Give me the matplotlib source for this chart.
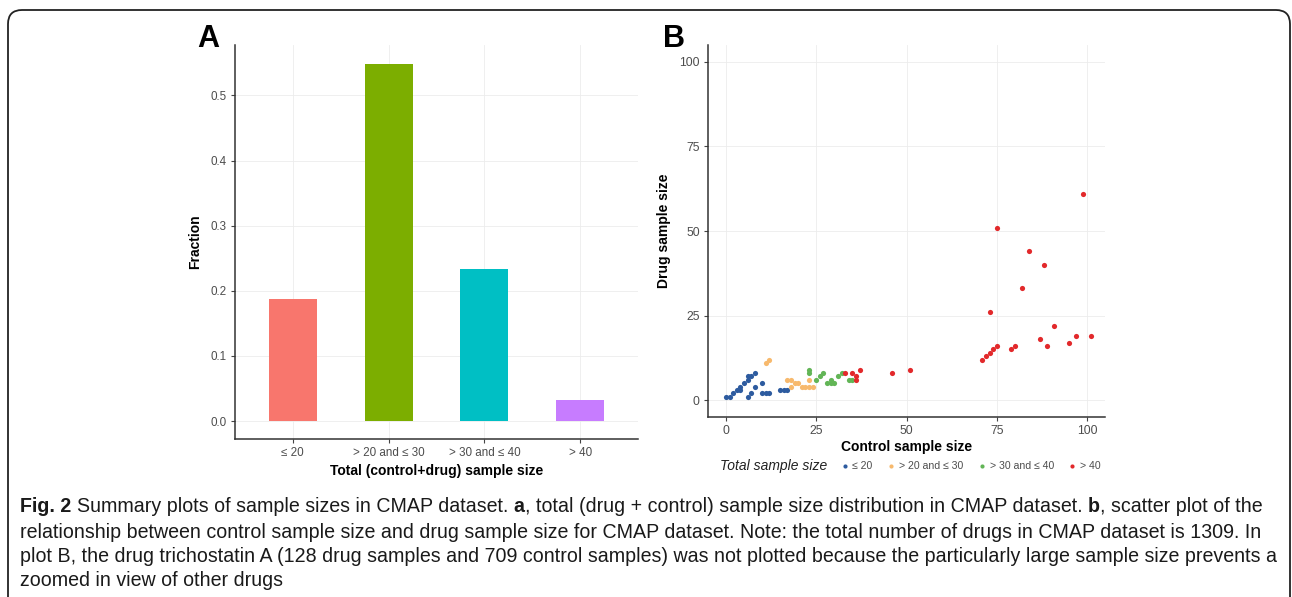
import numpy as np
import matplotlib
matplotlib.use("Agg")
import matplotlib.pyplot as plt
from matplotlib.patches import FancyBboxPatch

W, H = 1292, 597

# panel A data
grupos = ["≤ 20", "> 20 and ≤ 30", "> 30 and ≤ 40", "> 40"]
fraccion = [0.188, 0.548, 0.234, 0.032]
col_barras = ["#F8766D", "#7CAE00", "#00BFC4", "#C77CFF"]

# panel B data (control, drug) per group
ctrl_a = [0, 1, 2, 3, 4, 4, 5, 6, 6, 7, 8, 8, 6, 7, 10, 10, 11, 12, 15, 16, 17]
drug_a = [1, 1, 2, 3, 3, 4, 5, 6, 7, 7, 8, 4, 1, 2, 5, 2, 2, 2, 3, 3, 3]
ctrl_b = [11, 12, 17, 18, 18, 19, 20, 21, 22, 23, 24, 23]
drug_b = [11, 12, 6, 6, 4, 5, 5, 4, 4, 4, 4, 6]
ctrl_c = [23, 23, 25, 26, 27, 28, 29, 29, 30, 31, 32, 34, 35]
drug_c = [9, 8, 6, 7, 8, 5, 5, 6, 5, 7, 8, 6, 6]
ctrl_d = [33, 35, 36, 36, 37, 46, 51, 71, 72, 73, 74, 75, 73, 75, 79, 80,
          82, 84, 87, 88, 89, 91, 95, 97, 99, 101]
drug_d = [8, 8, 7, 6, 9, 8, 9, 12, 13, 14, 15, 16, 26, 51, 15, 16,
          33, 44, 18, 40, 16, 22, 17, 19, 61, 19]
col_puntos = ["#2d5b9f", "#f7b96d", "#62b556", "#e2292b"]

plt.rcParams["font.family"] = ["Liberation Sans", "DejaVu Sans"]

fig = plt.figure(figsize=(W / 100, H / 100), dpi=100)


def estilo(ax, ls=8.5):
    for s in ["top", "right"]:
        ax.spines[s].set_visible(False)
    for s in ["left", "bottom"]:
        ax.spines[s].set_color("#333333")
        ax.spines[s].set_linewidth(1.1)
    ax.tick_params(length=3, width=0.8, color="#444444", labelcolor="#4d4d4d",
                   labelsize=ls, pad=3)
    ax.grid(True, color="#ececec", linewidth=0.6)
    ax.set_axisbelow(True)


# A
axA = fig.add_axes([235 / W, 1 - 439 / H, 403 / W, 394 / H])
pos = np.arange(1, len(grupos) + 1)
axA.bar(pos, fraccion, width=0.5, color=col_barras)
axA.set_xlim(0.4, 4.6)
axA.set_ylim(-0.0275, 0.5775)
axA.set_xticks(pos)
axA.set_xticklabels(grupos)
axA.set_yticks([0, 0.1, 0.2, 0.3, 0.4, 0.5])
axA.set_yticklabels(["0.0", "0.1", "0.2", "0.3", "0.4", "0.5"])
estilo(axA, 8.4)
axA.set_ylabel("Fraction", fontsize=10, fontweight="bold", labelpad=6)
axA.set_xlabel("Total (control+drug) sample size", fontsize=10, fontweight="bold", labelpad=3)

# B
axB = fig.add_axes([708 / W, 1 - 417 / H, 397 / W, 372 / H])
puntos = []
for cx, dy, c, lab in zip([ctrl_a, ctrl_b, ctrl_c, ctrl_d],
                          [drug_a, drug_b, drug_c, drug_d], col_puntos, grupos):
    puntos.append(axB.scatter(cx, dy, s=14, color=c, linewidths=0, label=lab))
axB.set_xlim(-5, 105)
axB.set_ylim(-5, 105)
axB.set_xticks([0, 25, 50, 75, 100])
axB.set_yticks([0, 25, 50, 75, 100])
estilo(axB, 8.8)
axB.set_ylabel("Drug sample size", fontsize=10, fontweight="bold", labelpad=6)
axB.set_xlabel("Control sample size", fontsize=10, fontweight="bold", labelpad=2)

fig.text(720 / W, 1 - 466 / H, "Total sample size", fontsize=10, style="italic",
         color="#222222", va="center", ha="left")
leg = fig.legend(handles=puntos, labels=grupos, ncol=4, loc="center left",
                 bbox_to_anchor=(834 / W, 1 - 466 / H), frameon=False,
                 fontsize=7.6, handletextpad=-0.25, columnspacing=0.75,
                 markerscale=0.8, borderaxespad=0, borderpad=0)
for t in leg.get_texts():
    t.set_color("#4d4d4d")

fig.text(197 / W, 1 - 39 / H, "A", fontsize=22, fontweight="bold", va="center", ha="left")
fig.text(663 / W, 1 - 39 / H, "B", fontsize=22, fontweight="bold", va="center", ha="left")

# border
borde = FancyBboxPatch((0.08, -0.3), 12.82, 6.17, boxstyle="round,pad=0,rounding_size=0.14",
                       transform=fig.dpi_scale_trans, fill=False, edgecolor="#222222",
                       linewidth=1.3)
fig.patches.append(borde)

# caption
lineas = [
    [("Fig. 2", True), ("Summary plots of sample sizes in CMAP dataset.", False), ("a", True),
     (", total (drug + control) sample size distribution in CMAP dataset.", False), ("b", True),
     (", scatter plot of the", False)],
    [("relationship between control sample size and drug sample size for CMAP dataset. Note: the total number of drugs in CMAP dataset is 1309. In", False)],
    [("plot B, the drug trichostatin A (128 drug samples and 709 control samples) was not plotted because the particularly large sample size prevents a", False)],
    [("zoomed in view of other drugs", False)],
]
ys = [507, 532, 557, 581]
anchos = [1242, 1243, 1250]
fam_cap = ["Liberation Sans", "DejaVu Sans"]
r = fig.canvas.get_renderer()


def ancho(txt, size, bold):
    t = fig.text(0, 0, txt, fontsize=size, family=fam_cap,
                 fontweight="bold" if bold else "normal")
    w = t.get_window_extent(renderer=r).width
    t.remove()
    return w


def trozos(pz, size):
    esp = ancho("a a", size, False) - ancho("aa", size, False)
    res = []
    for i, (txt, b) in enumerate(pz):
        gap = 0
        if i > 0 and not txt.startswith(","):
            gap = esp
        res.append((txt, b, gap))
    return res


def medir(pz, size):
    return sum(ancho(t, size, b) + g for t, b, g in trozos(pz, size))


size = min(11.0 * obj / medir(pz, 11.0) for pz, obj in zip(lineas, anchos))

for pz, y in zip(lineas, ys):
    x = 20
    for txt, b, gap in trozos(pz, size):
        x += gap
        t = fig.text(x / W, 1 - y / H, txt, fontsize=size, family=fam_cap,
                     fontweight="bold" if b else "normal", va="center", ha="left",
                     color="#1a1a1a")
        x += t.get_window_extent(renderer=r).width

fig.savefig("out.png", dpi=100)
